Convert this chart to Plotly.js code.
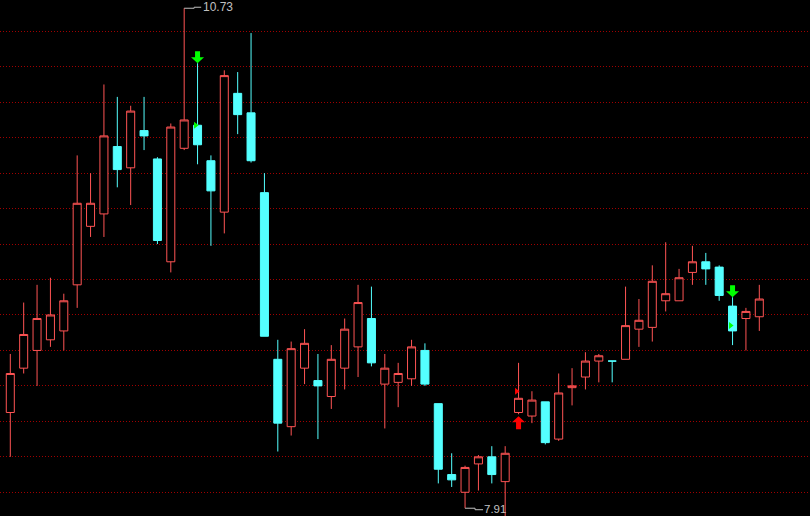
<!DOCTYPE html>
<html>
<head>
<meta charset="utf-8">
<script src="https://cdn.plot.ly/plotly-3.0.1.min.js"></script>
<style>
  html, body { margin: 0; padding: 0; background: #000; overflow: hidden; }
  #chart { width: 810px; height: 516px; }
</style>
</head>
<body>
<div id="chart"></div>
<script>
// Daily OHLC prices, one entry per trading day
const openP  = [8.45, 8.70, 8.80, 8.86, 8.91, 9.17, 9.50, 9.57, 9.95, 9.83,
                10.04, 9.88, 9.30, 9.94, 10.07, 9.87, 9.58, 10.25, 10.14, 9.69,
                8.75, 8.37, 8.70, 8.63, 8.54, 8.70, 8.82, 8.98, 8.61, 8.62,
                8.64, 8.80, 8.50, 8.10, 8.00, 8.16, 8.20, 8.06, 8.45, 8.43,
                8.51, 8.30, 8.59, 8.65, 8.74, 8.74, 8.75, 8.92, 8.93, 9.08,
                9.08, 9.24, 9.30, 9.27, 9.05, 8.98, 8.99];
const highP  = [8.78, 9.07, 9.17, 9.21, 9.12, 9.90, 9.80, 10.30, 10.23, 10.18,
                10.23, 9.89, 10.08, 10.73, 10.42, 9.90, 10.38, 10.37, 10.59, 9.80,
                8.86, 8.85, 8.92, 8.78, 8.83, 8.98, 9.17, 9.16, 8.78, 8.73,
                8.86, 8.84, 8.50, 8.22, 8.15, 8.21, 8.26, 8.26, 8.73, 8.57,
                8.51, 8.67, 8.70, 8.79, 8.78, 8.74, 9.16, 9.09, 9.28, 9.41,
                9.26, 9.39, 9.35, 9.28, 9.10, 9.04, 9.17];
const lowP   = [8.20, 8.67, 8.60, 8.82, 8.80, 9.04, 9.44, 9.44, 9.72, 9.62,
                9.93, 9.40, 9.24, 9.93, 9.85, 9.39, 9.46, 10.02, 9.86, 8.88,
                8.23, 8.32, 8.61, 8.30, 8.47, 8.58, 8.65, 8.71, 8.36, 8.48,
                8.60, 8.60, 8.05, 8.03, 7.91, 8.01, 8.05, 7.85, 8.44, 8.39,
                8.27, 8.29, 8.49, 8.58, 8.62, 8.62, 8.75, 8.82, 8.85, 9.02,
                9.08, 9.17, 9.17, 9.08, 8.83, 8.80, 8.91];
const closeP = [8.67, 8.89, 8.98, 9.00, 9.08, 9.63, 9.63, 10.01, 9.82, 10.15,
                10.01, 9.42, 10.06, 10.10, 9.96, 9.70, 10.35, 10.13, 9.87, 8.88,
                8.39, 8.81, 8.84, 8.60, 8.75, 8.92, 9.07, 8.73, 8.70, 8.67,
                8.82, 8.61, 8.13, 8.07, 8.14, 8.20, 8.10, 8.22, 8.53, 8.52,
                8.28, 8.56, 8.60, 8.74, 8.77, 8.74, 8.94, 8.97, 9.19, 9.12,
                9.21, 9.30, 9.26, 9.11, 8.91, 9.02, 9.09];

// Trading signals (day index) and the price level flagged on those days
const sellDays = [14, 54];
const buyDays = [38];
const sellFlagPrices = [10.07, 8.94];
const buyFlagPrices = [8.57];

// Days whose high / low carry a price label
const peakDay = 13;
const troughDay = 34;

const day = openP.map((_, i) => i);

const UP = '#ff5454';
const DOWN = '#54ffff';
const LABEL = '#c0c0c0';

const candles = {
  type: 'candlestick',
  x: day,
  open: openP,
  high: highP,
  low: lowP,
  close: closeP,
  increasing: { line: { color: UP, width: 1 }, fillcolor: '#000000' },
  decreasing: { line: { color: DOWN, width: 1 }, fillcolor: DOWN },
  whiskerwidth: 0,
  hoverinfo: 'skip',
  showlegend: false
};

// Block arrows in pixel units, anchored at the candle's high (sell) or low (buy)
const downArrow = 'M-2.5,12 L2.5,12 L2.5,6 L6.5,6 L0,0 L-6.5,6 L-2.5,6 Z';
const upArrow = 'M0,-2 L6.5,-8 L2.5,-8 L2.5,-15 L-2.5,-15 L-2.5,-8 L-6.5,-8 Z';
const flag = 'M-3.5,3.5 L1,0 L-3.5,-3.5 Z';

function pixelShape(xv, yv, path, color) {
  return {
    type: 'path', xref: 'x', yref: 'y',
    xsizemode: 'pixel', ysizemode: 'pixel',
    xanchor: xv, yanchor: yv, path: path,
    fillcolor: color, line: { width: 0 }, layer: 'above'
  };
}

function leader(xv, yv, path) {
  return {
    type: 'path', xref: 'x', yref: 'y',
    xsizemode: 'pixel', ysizemode: 'pixel',
    xanchor: xv, yanchor: yv, path: path,
    line: { color: LABEL, width: 1 }, layer: 'above'
  };
}

const shapes = [];
sellDays.forEach((d, k) => {
  shapes.push(pixelShape(d, highP[d], downArrow, '#00ff00'));
  shapes.push(pixelShape(d, sellFlagPrices[k], flag, '#00ff00'));
});
buyDays.forEach((d, k) => {
  shapes.push(pixelShape(d, lowP[d], upArrow, '#ff0000'));
  shapes.push(pixelShape(d, buyFlagPrices[k], flag, '#ff0000'));
});
shapes.push(leader(peakDay, highP[peakDay], 'M0,0 L10,0 L10,1 L17,1'));
shapes.push(leader(troughDay, lowP[troughDay], 'M0,0 L10,0 L10,-1.5 L18,-1.5'));

const labelFont = { family: 'Liberation Sans, Arial, sans-serif', size: 12, color: LABEL };
const annotations = [
  {
    x: peakDay, y: highP[peakDay], xref: 'x', yref: 'y',
    text: highP[peakDay].toFixed(2), showarrow: false,
    xanchor: 'left', yanchor: 'middle', xshift: 17, yshift: 1.5,
    font: labelFont
  },
  {
    x: troughDay, y: lowP[troughDay], xref: 'x', yref: 'y',
    text: lowP[troughDay].toFixed(2), showarrow: false,
    xanchor: 'left', yanchor: 'middle', xshift: 18, yshift: -0.8,
    borderpad: 0,
    font: { family: labelFont.family, size: 11.5, color: LABEL }
  }
];

const layout = {
  width: 810,
  height: 516,
  margin: { l: 0, r: 0, t: 0, b: 0, pad: 0 },
  paper_bgcolor: '#000000',
  plot_bgcolor: '#000000',
  showlegend: false,
  hovermode: false,
  boxgap: 0.4,
  boxgroupgap: 0,
  xaxis: {
    range: [-0.7701, 59.7906],
    showgrid: false, zeroline: false, showline: false,
    showticklabels: false, ticks: '',
    rangeslider: { visible: false }, fixedrange: true
  },
  yaxis: {
    range: [7.8662, 10.7765],
    tick0: 8, dtick: 0.2,
    showgrid: true, gridcolor: '#a00000', gridwidth: 1, griddash: '1px,2px',
    zeroline: false, showline: false, showticklabels: false, ticks: '',
    fixedrange: true
  },
  shapes: shapes,
  annotations: annotations
};

Plotly.newPlot('chart', [candles], layout, { staticPlot: true, displayModeBar: false });
</script>
</body>
</html>
